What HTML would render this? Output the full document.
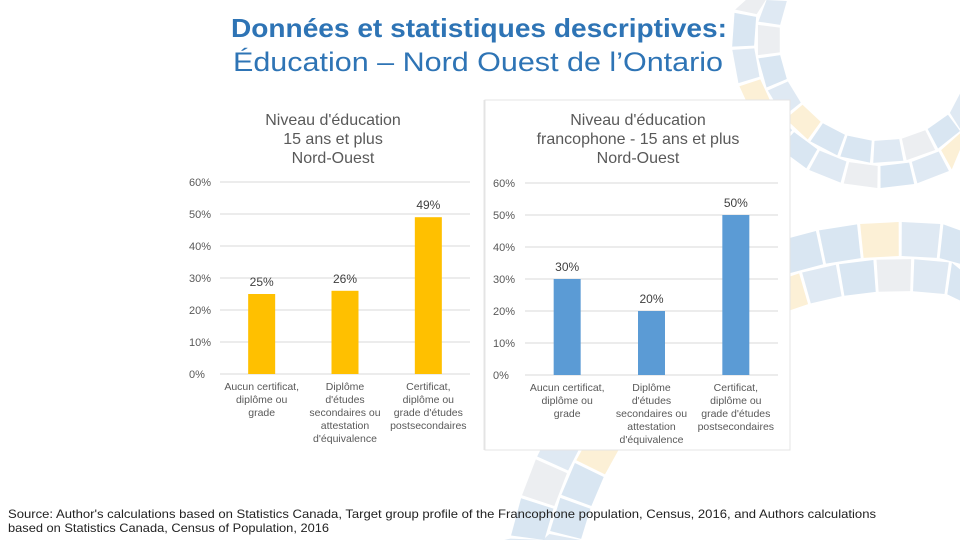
<!DOCTYPE html>
<html><head><meta charset="utf-8">
<style>
html,body{margin:0;width:960px;height:540px;overflow:hidden;background:#fff;font-family:"Liberation Sans",sans-serif;position:relative}
svg{position:absolute;left:0;top:0;overflow:hidden}
</style></head>
<body>
<svg width="960" height="540" viewBox="0 0 960 540">
  <g id="deco"></g>
  <text x="231" y="37" font-size="26" font-weight="bold" fill="#2e74b5" textLength="496" lengthAdjust="spacingAndGlyphs">Données et statistiques descriptives:</text>
  <text x="233" y="71" font-size="27" fill="#2e74b5" textLength="490" lengthAdjust="spacingAndGlyphs">Éducation – Nord Ouest de l’Ontario</text>
  <rect x="180" y="100" width="303" height="350" fill="#fff"/>
  <line x1="484" y1="100" x2="484" y2="450" stroke="#e4e4e4"/>
  <rect x="485" y="100" width="305" height="350" fill="#fff" stroke="#e4e4e4"/>
  <g id="c1"></g>
  <g id="c2"></g>
  <text x="8" y="518" font-size="12" fill="#222" textLength="868" lengthAdjust="spacingAndGlyphs">Source: Author's calculations based on Statistics Canada, Target group profile of the Francophone population, Census, 2016, and Authors calculations</text>
  <text x="8" y="532" font-size="12" fill="#222" textLength="321" lengthAdjust="spacingAndGlyphs">based on Statistics Canada, Census of Population, 2016</text>
</svg>
<script>
const ticks = [0, 10, 20, 30, 40, 50, 60];
const titles1 = ["Niveau d'éducation", "15 ans et plus", "Nord-Ouest"];
const titles2 = ["Niveau d'éducation", "francophone - 15 ans et plus", "Nord-Ouest"];
const cats1 = [["Aucun certificat,","diplôme ou","grade"],["Diplôme","d'études","secondaires ou","attestation","d'équivalence"],["Certificat,","diplôme ou","grade d'études","postsecondaires"]];
const vals1 = [25, 26, 49];
const vals2 = [30, 20, 50];
const NS = "http://www.w3.org/2000/svg";
function mk(p, tag, a){const e=document.createElementNS(NS,tag);for(const k in a)e.setAttribute(k,a[k]);p.appendChild(e);return e;}

// decorative tiles, clamped to frame
(function(){
  const deco=document.getElementById('deco');
  const rings=[[880,40,101,123,30],[880,40,126,148,34],[900,620,329,361,36],[900,620,364,398,40]];
  const cols=['#d9e6f2','#dfe9f3','#d9e6f2','#fcf0d6','#d9e6f2','#eceef1','#dfe9f3'];
  rings.forEach(([cx,cy,r0,r1,len],ri)=>{
    const rm=(r0+r1)/2, n=Math.round(2*Math.PI*rm/len), da=2*Math.PI/n, gap=3/rm;
    for(let i=0;i<n;i++){
      const a0=i*da+gap/2+ri*0.07, a1=(i+1)*da-gap/2+ri*0.07;
      let pts=[[r0,a0],[r1,a0],[r1,a1],[r0,a1]].map(([r,a])=>[cx+r*Math.cos(a),cy+r*Math.sin(a)]);
      if(pts.every(p=>p[0]<0)||pts.every(p=>p[0]>960)||pts.every(p=>p[1]<0)||pts.every(p=>p[1]>540)) continue;
      pts=pts.map(p=>[Math.min(960,Math.max(0,p[0])),Math.min(540,Math.max(0,p[1]))]);
      const p=mk(deco,'polygon',{points:pts.map(p=>p.join(',')).join(' '),fill:cols[(i*3+ri)%cols.length]});
      
      
    }
  });
})();

function draw(g, cfg, titles, vals, color){
  const y = v => cfg.y0 - v*(cfg.y0-cfg.y60)/60;
  const bw = (cfg.x1-cfg.x0)/vals.length;
  const x = i => cfg.x0 + bw*(i+0.5);
  titles.forEach((t,i)=>{const e=mk(g,'text',{x:cfg.tx,y:cfg.ty+i*19,'text-anchor':'middle','font-size':16,fill:'#595959'});e.textContent=t;
    
    });
  ticks.forEach(t=>{
    const l=mk(g,'line',{x1:cfg.x0,x2:cfg.x1,y1:y(t),y2:y(t),stroke:'#d9d9d9'});
    
    
    const e=mk(g,'text',{x:cfg.lx,y:y(t)+4,'font-size':11,fill:'#595959'});e.textContent=t+'%';
    
    
  });
  vals.forEach((v,i)=>{
    const r=mk(g,'rect',{x:x(i)-13.5,y:y(v),width:27,height:y(0)-y(v),fill:color});
    
    
    const e=mk(g,'text',{x:x(i),y:y(v)-8,'text-anchor':'middle','font-size':12,fill:'#404040'});e.textContent=v+'%';
    
    
    cats1[i].forEach((c,j)=>{const t=mk(g,'text',{x:x(i),y:y(0)+16+j*13,'text-anchor':'middle','font-size':10.5,fill:'#595959'});t.textContent=c;
      
      });
  });
}
draw(document.getElementById('c1'),{x0:220,x1:470,y0:374,y60:182,lx:189,tx:333,ty:125},titles1,vals1,'#ffc000');
draw(document.getElementById('c2'),{x0:525,x1:778,y0:375,y60:183,lx:493,tx:638,ty:125},titles2,vals2,'#5b9bd5');
</script>
</body></html>
